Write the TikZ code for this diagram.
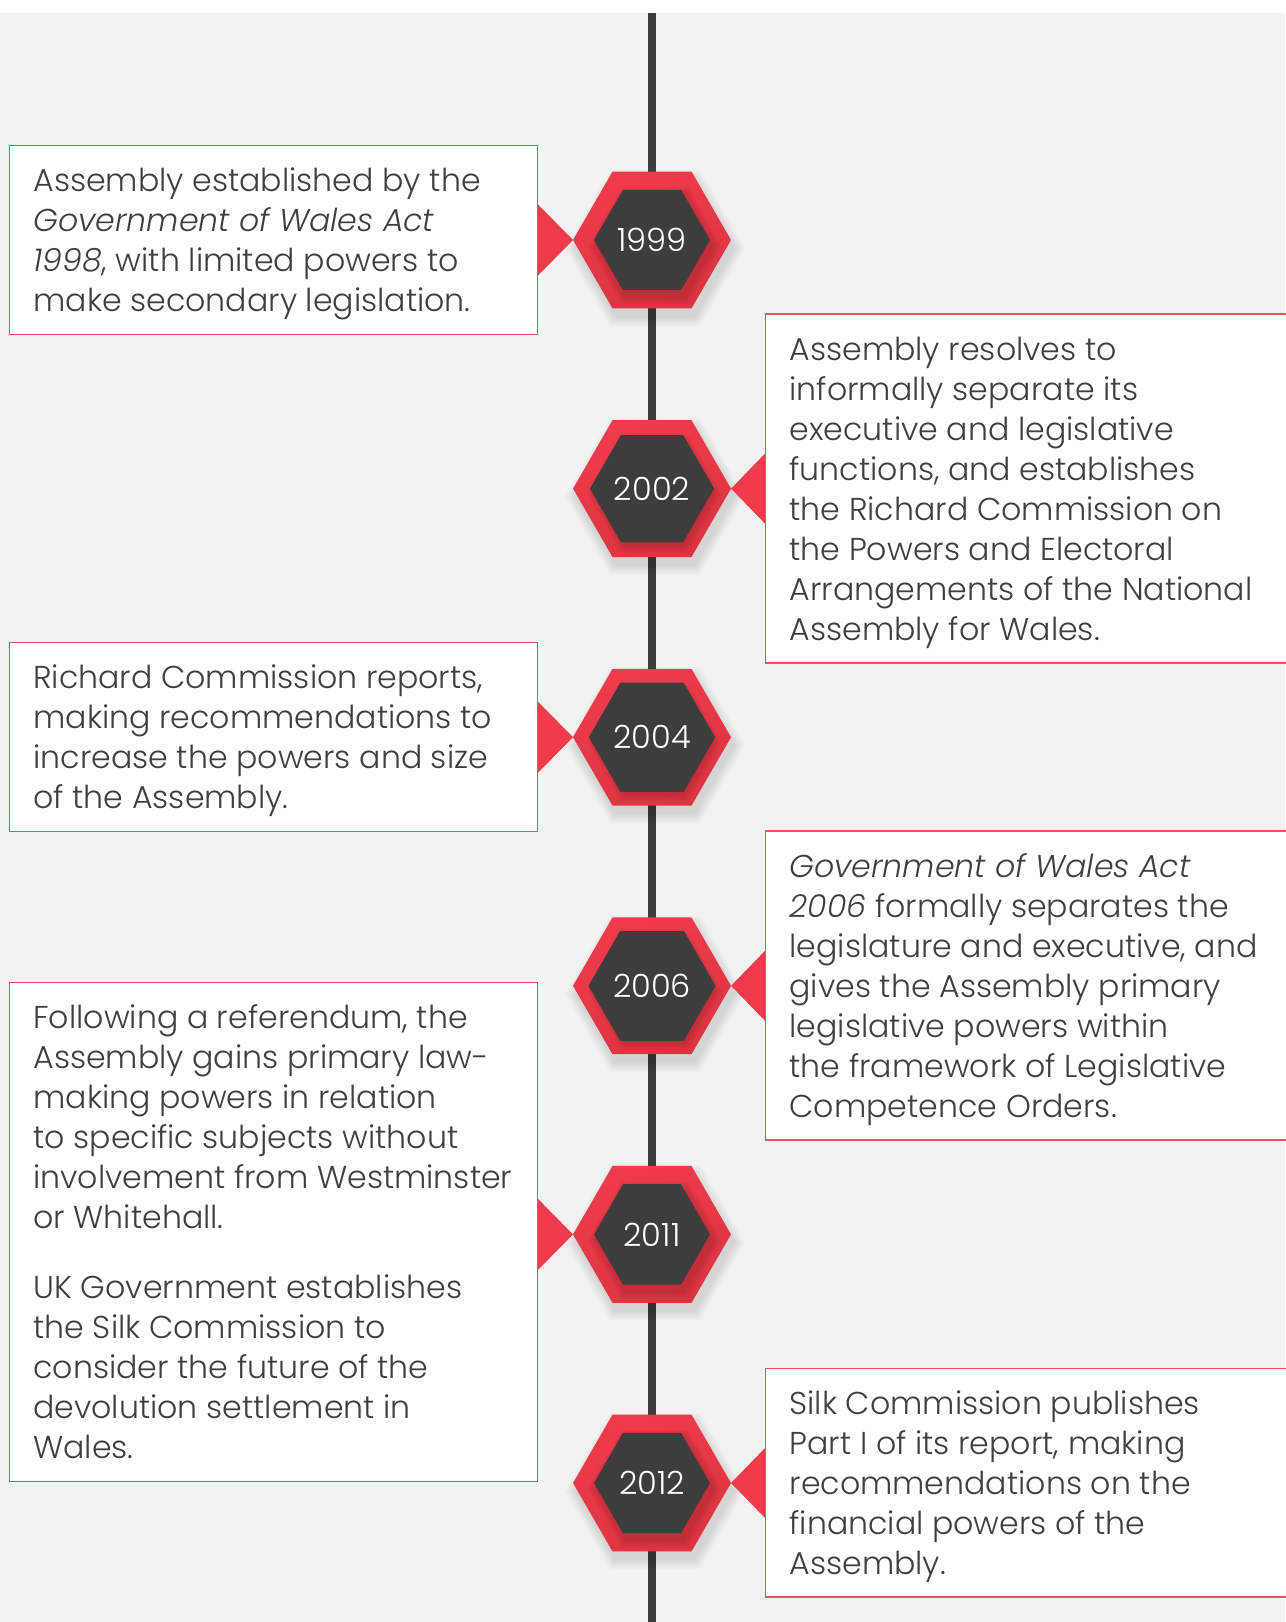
\documentclass[tikz,border=0pt]{standalone}
\usepackage{fontspec}
\setmainfont{Poppins}[UprightFont={* Light},ItalicFont={* Light Italic}]
\usetikzlibrary{calc,shapes.geometric}
\definecolor{wred}{HTML}{EF3B4A}
\definecolor{wredlow}{HTML}{DC3540}
\definecolor{wshade}{HTML}{A8262F}
\definecolor{wdark}{HTML}{3D3D3D}
\definecolor{wtext}{HTML}{3F3F3F}
\definecolor{wback}{HTML}{F2F2F2}
\definecolor{wedge}{HTML}{EA5262}
\newcommand\hexof[1]{+(0:#1) -- +(60:#1) -- +(120:#1) -- +(180:#1) -- +(240:#1) -- +(300:#1) -- cycle}

\begin{document}
\begin{tikzpicture}[x=0.5pt,y=-0.5pt,
        card/.style={draw=wedge, line width=0.75pt, fill=white, anchor=north west, inner sep=0, outer sep=0},
        blurb/.style={anchor=base west, align=left, inner sep=0, text=wtext, font=\fontsize{15.8}{20}\selectfont},
        hexout/.style={regular polygon, regular polygon sides=6, minimum size=79pt, inner sep=0, outer sep=0, top color=wred, bottom color=wredlow, shading angle=20},
        hexin/.style={regular polygon, regular polygon sides=6, minimum size=58pt, inner sep=0, outer sep=0, fill=wdark, text=white, font=\fontsize{16}{20}\selectfont}]
        \useasboundingbox (0,0) rectangle (1285,1622);
        \fill[white] (0,0) rectangle (1285,1622);
        \fill[wback] (0,13) rectangle (1285,1622);
        \coordinate (top) at (652,13);
        \coordinate (bottom) at (652,1622);
        \draw[wdark, line width=4.3pt] (top) -- (bottom);
        \foreach \yr [count=\i] in {1999,2002,2004,2006,2011,2012} {
            \coordinate (c\i) at (652,{240+248.6*(\i-1)});
            \foreach \k [evaluate=\k as \r using 78+2*\k] in {1,...,6}
                \fill[black, opacity=0.02] ($(c\i)+(3,8)$) \hexof{\r};
            \node[hexout] (hx\i) at (c\i) {};
            \foreach \k [evaluate=\k as \r using 57+2*\k] in {1,...,5}
                \fill[wshade, opacity=0.12] ($(c\i)+(3,6)$) \hexof{\r};
            \node[hexin] (yr\i) at (c\i) {\yr};
        }
        \fill[wred] (hx1.west) -- ++(-35.5,-36) -- ++(0,72) -- cycle;
        \fill[wred] (hx2.east) -- ++(35,-36) -- ++(0,72) -- cycle;
        \fill[wred] (hx3.west) -- ++(-35.5,-36) -- ++(0,72) -- cycle;
        \fill[wred] (hx4.east) -- ++(35,-36) -- ++(0,72) -- cycle;
        \fill[wred] (hx5.west) -- ++(-35.5,-36) -- ++(0,72) -- cycle;
        \fill[wred] (hx6.east) -- ++(35,-36) -- ++(0,72) -- cycle;
        \node[card, minimum width=264pt, minimum height=94.5pt] (b1) at (9.5,145.5) {};
        \node[card, minimum width=270pt, minimum height=174.4pt] (b2) at (765.7,314) {};
        \node[card, minimum width=264pt, minimum height=94.7pt] (b3) at (9.5,642.3) {};
        \node[card, minimum width=270pt, minimum height=154.5pt] (b4) at (765.7,831) {};
        \node[card, minimum width=264pt, minimum height=249.7pt] (b5) at (9.5,982.3) {};
        \node[card, minimum width=270pt, minimum height=114.4pt] (b6) at (765.7,1368.3) {};
        \node[blurb] (t1) at ($(b1.north west)+(23.5,166)$) {Assembly established by the\\\textit{Government of Wales Act}\\\textit{1998}, with limited powers to\\make secondary legislation.};
        \node[blurb] (t2) at ($(b2.north west)+(23.5,326)$) {Assembly resolves to\\informally separate its\\executive and legislative\\functions, and establishes\\the Richard Commission on\\the Powers and Electoral\\Arrangements of the National\\Assembly for Wales.};
        \node[blurb] (t3) at ($(b3.north west)+(23.5,166)$) {Richard Commission reports,\\making recommendations to\\increase the powers and size\\of the Assembly.};
        \node[blurb] (t4) at ($(b4.north west)+(23.5,286)$) {\textit{Government of Wales Act}\\\textit{2006} formally separates the\\legislature and executive, and\\gives the Assembly primary\\legislative powers within\\the framework of Legislative\\Competence Orders.};
        \node[blurb] (t5) at ($(b5.north west)+(23.5,476)$) {Following a referendum, the\\Assembly gains primary law-\\making powers in relation\\to specific subjects without\\involvement from Westminster\\or Whitehall.\\[15pt]UK Government establishes\\the Silk Commission to\\consider the future of the\\devolution settlement in\\Wales.};
        \node[blurb] (t6) at ($(b6.north west)+(23.5,206)$) {Silk Commission publishes\\Part I of its report, making\\recommendations on the\\financial powers of the\\Assembly.};
\end{tikzpicture}
\end{document}
